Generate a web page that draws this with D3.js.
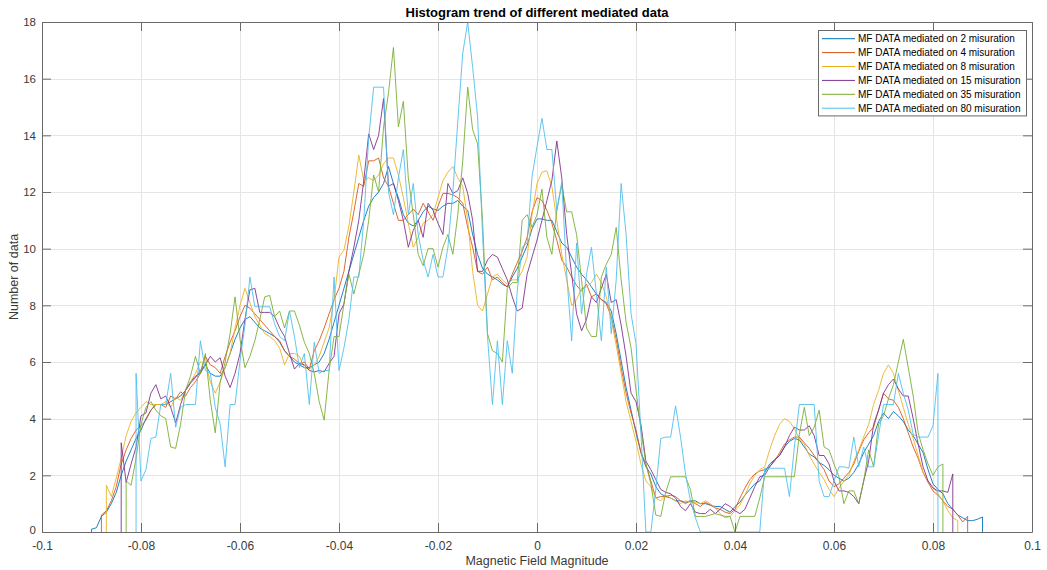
<!DOCTYPE html>
<html>
<head>
<meta charset="utf-8">
<script src="https://cdn.jsdelivr.net/npm/d3@7"></script>
<style>
  html, body { margin: 0; padding: 0; background: #ffffff; }
  svg { display: block; font-family: "Liberation Sans", Arial, sans-serif; }
</style>
</head>
<body>
<svg id="chart" width="1047" height="570"></svg>
<script>
// Histogram bin width shared by every curve (bin centres step by this amount)
const binWidth = 0.001;

const seriesLabels = [
  "MF DATA mediated on 2 misuration",
  "MF DATA mediated on 4 misuration",
  "MF DATA mediated on 8 misuration",
  "MF DATA mediated on 15 misuration",
  "MF DATA mediated on 35 misuration",
  "MF DATA mediated on 80 misuration"
];

// Centre of the first non-empty bin of each curve
const firstBins = [-0.090, -0.088, -0.087, -0.084, -0.083, -0.081];

// Counts per bin, one array per averaging window
const counts2 = [
  0.1,0.15,0.55,0.7,1.0,1.4,2.0,2.5,2.9,3.3,
  3.6,4.0,4.3,4.5,4.5,4.5,4.6,4.7,4.8,5.0,
  5.3,5.5,5.6,5.9,5.6,5.5,5.5,5.8,6.3,6.8,
  7.2,7.5,7.6,7.4,7.2,7.1,7.0,6.9,6.7,6.4,
  6.2,6.0,5.9,5.8,5.8,5.9,6.0,6.3,6.8,7.4,
  8.0,8.6,9.2,9.8,10.4,11.0,11.5,11.8,12.0,12.3,
  12.9,12.3,11.8,11.2,10.9,10.8,11.0,11.3,11.5,11.4,
  11.35,11.5,11.6,11.6,11.7,11.5,11.35,10.5,9.8,9.3,
  9.1,9.0,8.9,8.75,8.65,9.0,9.3,9.7,10.1,10.7,
  11.05,11.05,11.0,11.0,10.6,10.2,10.05,9.7,9.35,9.1,
  8.9,8.65,8.4,8.2,8.1,7.8,7.0,6.05,5.1,4.3,
  3.5,2.8,2.3,2.05,1.6,1.35,1.25,1.2,1.1,1.1,
  1.05,1.1,1.1,1.0,1.0,0.95,0.9,0.9,0.8,0.7,
  0.9,1.05,1.3,1.5,1.7,1.8,2.1,2.4,2.55,2.7,
  3.0,3.2,3.3,3.25,3.0,2.75,2.65,2.45,2.35,2.2,
  2.0,1.9,1.8,1.9,2.1,2.4,2.8,3.1,3.4,3.9,
  4.2,4.0,4.25,4.1,3.9,3.6,3.4,3.1,2.8,2.2,
  1.7,1.5,1.35,1.0,0.8,0.6,0.5,0.4,0.4,0.45,0.53
];

const counts4 = [
  0.6,0.75,1.1,1.6,2.4,2.9,3.3,3.6,
  3.75,3.95,4.3,4.5,4.5,4.4,4.8,4.7,4.95,4.8,
  5.1,5.3,5.6,6.2,5.9,5.8,5.6,6.2,6.7,7.1,
  7.6,8.0,7.9,7.7,7.5,7.3,7.1,6.9,6.75,6.4,
  6.2,6.1,5.95,6.0,5.75,6.4,6.75,7.2,7.7,8.2,
  8.6,9.2,10.4,11.3,12.3,12.2,13.1,13.1,13.2,12.5,
  12.2,11.6,11.0,11.0,11.2,11.4,11.2,11.6,11.3,11.0,
  11.5,11.95,11.95,11.9,11.8,11.6,10.75,10.05,9.2,9.1,
  9.35,8.9,9.0,8.8,8.65,9.1,9.5,9.9,10.4,11.3,
  11.8,11.7,11.35,10.9,10.3,9.6,9.35,9.0,8.7,8.5,
  8.75,8.3,8.4,8.2,8.05,7.6,6.8,5.8,4.9,4.2,
  3.6,2.8,2.4,1.8,1.2,1.25,1.25,1.3,1.25,1.1,
  1.0,1.1,1.0,0.9,1.05,0.95,0.85,0.8,0.7,0.65,
  0.8,1.2,1.55,1.85,2.05,2.15,2.2,2.3,2.5,2.8,
  3.1,3.25,3.35,3.35,3.15,2.95,2.7,2.45,2.2,1.8,
  1.6,1.7,1.9,2.1,2.4,2.85,3.25,3.5,3.7,4.3,
  4.9,4.7,4.65,4.4,4.0,3.5,3.0,2.6,2.1,1.75,
  1.45,1.3,1.1,0.9,0.8,0.6,0.35,0.55
];

const counts8 = [
  1.65,1.25,1.9,2.6,3.4,3.9,4.2,
  4.4,4.6,4.5,4.5,4.5,4.6,4.4,4.75,4.65,5.0,
  5.3,5.6,6.0,6.0,5.3,4.9,5.3,5.8,6.3,7.2,
  8.0,8.6,8.1,7.6,7.3,7.0,6.9,6.75,6.5,5.9,
  6.3,6.3,6.2,5.8,5.75,5.9,6.2,6.7,7.2,8.2,
  9.7,9.95,10.8,12.0,13.3,12.4,12.5,12.4,12.6,13.0,
  13.2,13.2,12.6,11.8,10.9,10.05,10.4,10.9,11.0,11.2,
  11.8,12.4,12.7,12.9,12.5,12.2,11.0,9.2,8.0,7.8,
  8.4,9.0,9.1,8.9,8.75,8.9,8.9,9.2,9.7,11.2,
  12.3,12.7,12.75,12.2,11.0,9.8,8.9,8.0,8.2,8.6,
  8.65,8.8,9.1,8.8,8.3,7.5,6.6,5.6,4.6,3.9,
  3.2,2.4,1.8,1.6,1.2,1.1,1.3,1.2,1.1,1.0,
  1.1,1.05,1.05,1.0,1.1,1.0,0.85,0.65,0.5,0.55,
  0.75,0.95,1.3,1.7,2.0,2.2,2.3,2.9,3.4,3.8,
  4.0,3.9,3.65,3.3,3.1,2.7,2.4,2.1,1.85,1.5,
  1.25,1.55,1.8,2.0,2.5,2.9,3.35,3.8,4.5,5.0,
  5.6,5.9,5.6,5.0,4.4,3.8,3.3,2.7,2.1,1.8,
  1.6,1.35,1.1,0.75,0.5,0.4
];

const counts15 = [
  3.15,1.75,2.4,3.0,
  4.1,4.2,4.9,5.2,4.7,4.8,4.4,3.85,4.5,5.0,
  5.25,5.45,5.7,5.9,6.2,6.0,6.15,5.5,5.1,5.6,
  6.3,7.5,8.55,8.6,7.75,7.75,7.75,7.6,7.2,6.9,
  6.3,5.75,5.95,5.9,5.7,5.65,5.7,5.65,5.95,6.2,
  7.7,8.05,9.2,10.05,11.0,12.4,14.05,13.5,14.0,15.3,
  12.2,12.3,11.7,11.0,10.05,10.65,11.0,10.4,11.6,11.35,
  10.9,10.5,12.3,11.95,12.05,12.5,11.95,11.0,9.2,9.2,
  9.6,9.8,9.7,9.3,8.9,8.3,7.8,7.9,9.1,9.7,
  10.3,11.0,11.7,12.4,13.8,12.5,10.5,9.1,7.7,7.1,
  7.5,8.3,8.1,8.6,9.1,8.1,8.2,7.3,6.2,4.9,
  4.6,3.8,2.5,2.2,1.85,1.5,1.4,1.35,1.2,0.9,
  0.75,1.0,0.7,0.65,0.65,0.8,0.65,0.8,1.0,0.9,
  0.75,0.65,0.8,1.2,1.6,1.95,2.0,2.3,2.55,2.7,
  3.0,3.4,3.7,3.6,3.6,3.75,3.4,2.7,2.7,2.4,
  1.8,1.45,1.45,1.4,1.25,1.0,1.8,2.5,3.8,4.3,
  4.9,5.2,5.4,5.05,4.8,4.8,4.0,3.1,2.3,1.8,
  1.55,1.45,1.45,1.4,2.05
];

const counts35 = [
  1.8,1.65,2.6,
  3.8,4.4,4.6,4.3,4.1,4.0,3.0,2.95,3.8,5.0,
  5.5,6.2,5.6,6.3,4.65,3.5,5.3,6.0,7.0,8.3,
  6.8,5.8,6.2,6.75,7.5,8.3,8.35,7.6,7.8,7.2,
  7.8,7.8,7.3,6.7,6.3,5.6,4.6,3.95,5.7,6.9,
  6.9,8.05,9.1,8.4,9.1,9.8,11.0,12.6,12.0,14.3,
  15.5,17.1,14.3,15.2,12.5,11.2,9.8,9.4,10.0,10.0,
  9.35,10.05,10.5,9.8,11.2,13.1,15.7,14.2,13.7,11.0,
  7.0,6.4,6.3,6.0,8.6,8.8,8.8,11.0,11.2,10.75,
  11.2,12.1,10.4,9.8,11.35,12.25,11.3,11.3,10.5,8.9,
  7.2,6.9,6.9,9.0,9.45,9.8,10.75,8.9,7.4,6.5,
  5.0,3.6,2.4,1.7,0.6,0.55,1.4,1.95,1.95,1.95,
  1.95,1.5,0.55,0.55,0.55,0.6,0.65,0.6,0.55,0.55,
  0.0,0.55,0.55,0.55,0.55,1.2,1.95,1.95,1.95,1.95,
  1.95,1.95,1.95,3.45,4.4,3.4,3.7,4.3,3.0,2.9,
  2.4,1.95,1.0,1.45,1.45,1.0,1.8,2.9,2.3,3.8,
  4.1,4.7,5.2,6.0,6.8,5.8,4.8,3.5,2.9,2.4,
  2.0,2.3,2.4
];

const counts80 = [
  5.6,
  1.8,2.2,3.3,3.35,4.5,4.5,5.6,3.7,4.4,4.5,
  4.5,4.5,6.75,5.7,5.6,4.4,3.8,2.3,4.5,4.5,
  6.05,7.3,9.0,7.95,7.95,7.95,7.95,7.35,6.9,6.75,
  7.8,6.9,5.8,6.3,4.5,6.7,5.6,5.7,5.7,9.0,
  5.7,6.5,7.5,9.0,9.0,11.0,13.9,15.7,15.7,15.7,
  12.0,11.2,12.5,13.5,11.2,12.3,10.5,9.6,9.0,9.8,
  9.0,9.0,10.05,12.0,14.5,16.9,18.0,16.4,14.65,10.5,
  6.9,4.5,6.75,4.5,6.75,5.6,8.5,10.05,10.2,12.55,
  13.6,14.6,13.5,13.5,11.35,12.35,9.1,6.75,10.2,7.7,
  9.1,10.05,8.4,6.75,9.35,7.0,8.9,12.3,10.5,7.7,
  6.65,3.5,0.0,0.0,1.5,3.3,3.35,3.35,4.45,3.35,
  2.05,1.1,0.5,0,0,0,0,0,0,0,
  0,0,0,0,0,0,2.25,2.25,2.25,2.25,
  2.25,1.25,3.0,4.5,4.5,4.5,4.5,1.8,1.25,1.25,
  1.8,2.3,2.3,2.25,3.35,2.3,3.0,2.3,2.3,3.4,
  4.5,4.5,4.5,5.6,4.9,4.3,3.45,3.35,3.35,3.35,
  3.75,5.6
];

const seriesCounts = [counts2, counts4, counts8, counts15, counts35, counts80];

// MATLAB default line colour order
const lineColors = ["#0072BD", "#D95319", "#EDB120", "#7E2F8E", "#77AC30", "#4DBEEE"];

const xTickValues = [-0.1, -0.08, -0.06, -0.04, -0.02, 0, 0.02, 0.04, 0.06, 0.08, 0.1];
const xTickLabels = ["-0.1", "-0.08", "-0.06", "-0.04", "-0.02", "0", "0.02", "0.04", "0.06", "0.08", "0.1"];
const yTickValues = [0, 2, 4, 6, 8, 10, 12, 14, 16, 18];

const titleText = "Histogram trend of different mediated data";
const xLabelText = "Magnetic Field Magnitude";
const yLabelText = "Number of data";

// ---- layout ----
const plot = { left: 42, right: 1032, top: 22, bottom: 532 };
const tickLen = 9;
const axisColor = "#6a6a6a";
const gridColor = "#e5e5e5";
const textColor = "#3a3a3a";

const svg = d3.select("#chart");

const x = d3.scaleLinear().domain([-0.1, 0.1]).range([plot.left, plot.right]);
const y = d3.scaleLinear().domain([0, 18]).range([plot.bottom, plot.top]);

// grid
const grid = svg.append("g").attr("shape-rendering", "crispEdges");
grid.selectAll("line.gx").data(xTickValues).join("line")
  .attr("class", "gx")
  .attr("x1", d => Math.round(x(d)) + 0.5).attr("x2", d => Math.round(x(d)) + 0.5)
  .attr("y1", plot.top).attr("y2", plot.bottom)
  .attr("stroke", gridColor).attr("stroke-width", 1);
grid.selectAll("line.gy").data(yTickValues).join("line")
  .attr("class", "gy")
  .attr("y1", d => Math.round(y(d)) + 0.5).attr("y2", d => Math.round(y(d)) + 0.5)
  .attr("x1", plot.left).attr("x2", plot.right)
  .attr("stroke", gridColor).attr("stroke-width", 1);

// clip for the curves
svg.append("defs").append("clipPath").attr("id", "plot-clip")
  .append("rect")
  .attr("x", plot.left).attr("y", plot.top - 1)
  .attr("width", plot.right - plot.left).attr("height", plot.bottom - plot.top + 1);

// build the points of one curve: drop from the baseline at both ends
function curvePoints(first, counts) {
  const pts = counts.map((v, i) => [+(first + i * binWidth).toFixed(4), v]);
  const x0 = pts[0][0], x1 = pts[pts.length - 1][0];
  return [[x0, 0], ...pts, [x1, 0]];
}

const line = d3.line()
  .x(d => x(d[0]))
  .y(d => y(d[1]));

const curves = svg.append("g").attr("clip-path", "url(#plot-clip)");
seriesCounts.forEach((counts, i) => {
  curves.append("path")
    .attr("d", line(curvePoints(firstBins[i], counts)))
    .attr("fill", "none")
    .attr("stroke", lineColors[i])
    .attr("stroke-width", 1)
    .attr("stroke-opacity", 0.88)
    .attr("stroke-linejoin", "round");
});

// axes (ticks pointing inward, box on all sides)
const xBottom = d3.axisBottom(x).tickValues(xTickValues)
  .tickFormat((d, i) => xTickLabels[i]).tickSizeInner(-tickLen).tickSizeOuter(0).tickPadding(9);
const xTop = d3.axisTop(x).tickValues(xTickValues)
  .tickFormat("").tickSizeInner(-tickLen).tickSizeOuter(0);
const yLeft = d3.axisLeft(y).tickValues(yTickValues)
  .tickFormat(d3.format("d")).tickSizeInner(-tickLen).tickSizeOuter(0).tickPadding(6);
const yRight = d3.axisRight(y).tickValues(yTickValues)
  .tickFormat("").tickSizeInner(-tickLen).tickSizeOuter(0);

function styleAxis(g, size) {
  g.select(".domain").attr("stroke", axisColor);
  g.selectAll(".tick line").attr("stroke", axisColor);
  g.selectAll(".tick text").attr("fill", textColor)
    .style("font-family", "'Liberation Sans', Arial, sans-serif")
    .style("font-size", size + "px");
}

svg.append("g").attr("transform", `translate(0,${plot.bottom})`).call(xBottom).call(styleAxis, 12);
svg.append("g").attr("transform", `translate(0,${plot.top})`).call(xTop).call(styleAxis, 12);
const yAxisG = svg.append("g").attr("transform", `translate(${plot.left},0)`).call(yLeft).call(styleAxis, 11.5);
// the lowest y label sits slightly above its tick so it clears the x labels
yAxisG.selectAll(".tick text").filter(d => d === 0).attr("dy", "0.1em");
svg.append("g").attr("transform", `translate(${plot.right},0)`).call(yRight).call(styleAxis, 12);

// title and axis labels
svg.append("text")
  .attr("x", (plot.left + plot.right) / 2).attr("y", 17)
  .attr("text-anchor", "middle")
  .attr("font-size", 13).attr("font-weight", "bold").attr("fill", "#000")
  .text(titleText);

svg.append("text")
  .attr("x", (plot.left + plot.right) / 2).attr("y", 565)
  .attr("text-anchor", "middle")
  .attr("font-size", 12.5).attr("fill", textColor)
  .text(xLabelText);

svg.append("text")
  .attr("transform", `translate(18,${(plot.top + plot.bottom) / 2}) rotate(-90)`)
  .attr("text-anchor", "middle")
  .attr("font-size", 12.5).attr("fill", textColor)
  .text(yLabelText);

// legend
const legend = { left: 818, top: 30, width: 208, rowH: 13.9 };
const lg = svg.append("g");
lg.append("rect")
  .attr("x", legend.left + 0.5).attr("y", legend.top + 0.5)
  .attr("width", legend.width).attr("height", legend.rowH * seriesLabels.length + 2)
  .attr("fill", "#ffffff").attr("stroke", axisColor).attr("stroke-width", 1);
seriesLabels.forEach((label, i) => {
  const cy = legend.top + 8.7 + i * legend.rowH;
  lg.append("line")
    .attr("x1", legend.left + 4).attr("x2", legend.left + 37)
    .attr("y1", cy).attr("y2", cy)
    .attr("stroke", lineColors[i]).attr("stroke-width", 1);
  lg.append("text")
    .attr("x", legend.left + 40).attr("y", cy)
    .attr("dy", "0.35em")
    .attr("font-size", 10).attr("fill", "#000")
    .text(label);
});
</script>
</body>
</html>
